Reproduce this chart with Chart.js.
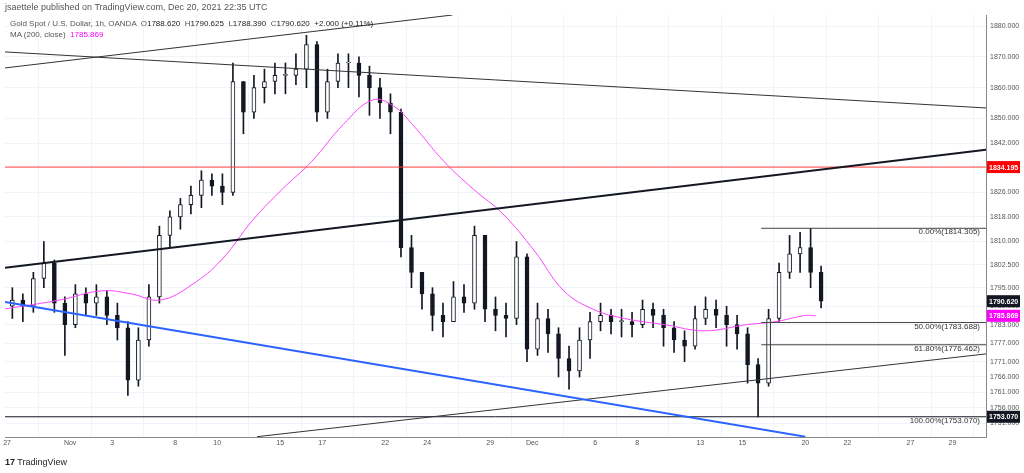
<!DOCTYPE html>
<html><head><meta charset="utf-8">
<script src="https://cdn.jsdelivr.net/npm/chart.js@4/dist/chart.umd.min.js"></script>
<style>
body{margin:0;background:#fff;font-family:"Liberation Sans",Arial,sans-serif;}
#wrap{position:relative;width:1024px;height:473px;}
canvas{position:absolute;left:0;top:0;}
.t{position:absolute;color:#555;white-space:pre;}
</style></head><body>
<div id="wrap"><canvas id="c" width="1024" height="473"></canvas>
<div class="t" style="left:5px;top:2px;font-size:9px;">jsaettele published on TradingView.com, Dec 20, 2021 22:35 UTC</div>
<div class="t" style="left:10px;top:19px;font-size:8px;">Gold Spot / U.S. Dollar, 1h, OANDA  O<span style="color:#222">1788.620</span>  H<span style="color:#222">1790.625</span>  L<span style="color:#222">1788.390</span>  C<span style="color:#222">1790.620</span>  <span style="color:#222">+2.000 (+0.11%)</span></div>
<div class="t" style="left:10px;top:30px;font-size:8px;">MA (200, close)  <span style="color:#ff00ff">1785.869</span></div>
<div class="t" style="left:5px;top:457px;font-size:9px;color:#222;"><b>17</b> TradingView</div>
</div>
<script>
const dayTickIdx=[0,3,5,8,10,13,15,18,20,23,25,28,30,33,35,38,40,43,45];
const dayTickLabels=["27","Nov","3","8","10","15","17","22","24","29","Dec","6","8","13","15","20","22","27","29"];
const priceTicks=[1751,1756,1761,1766,1771,1777,1783,1789,1795,1802.5,1810,1818,1826,1842,1850,1860,1870,1880];
// two candles per trading day
const closes=[1791,1789,1798,1803,1790,1783,1793,1790,1792,1786,1782,1765,1778,1792,1812,1818,1822,1825,1830,1828,1826,1862,1852,1860,1862,1864,1864,1866,1874,1852,1862,1868,1868,1864,1860,1855,1852,1808,1800,1793,1786,1784,1792,1790,1812,1788,1786,1785,1805,1775,1785,1780,1772,1768,1778,1784,1786,1784,1784,1783,1788,1786,1782,1778,1776,1785,1788,1786,1783,1780,1770,1764,1785,1800,1806,1808,1800,1790.62];
const highs=[1795,1793,1800,1810,1804,1792,1796,1795,1796,1794,1790,1784,1782,1796,1815,1820,1824,1828,1833,1832,1832,1868,1862,1864,1866,1868,1868,1871,1877,1875,1866,1871,1871,1870,1867,1863,1858,1853,1812,1800,1795,1790,1797,1796,1815,1810,1792,1790,1810,1806,1790,1788,1782,1776,1782,1787,1790,1788,1788,1787,1791,1790,1788,1784,1781,1789,1792,1791,1789,1786,1782,1772,1788,1803,1812,1813,1814.3,1802];
const lows=[1785,1784,1787,1795,1787,1773,1782,1786,1786,1783,1778,1760,1763,1776,1790,1808,1814,1819,1821,1825,1822,1825,1845,1850,1855,1858,1858,1861,1860,1849,1850,1860,1860,1857,1851,1850,1845,1805,1795,1788,1781,1779,1786,1787,1788,1784,1781,1779,1783,1771,1773,1774,1766,1762,1766,1772,1781,1780,1779,1779,1782,1782,1776,1774,1771,1775,1783,1782,1776,1775,1764,1753,1763,1784,1798,1800,1795,1788.4];
const maX=[-0.2,2.5,4.5,5.9,7.3,8.8,10.2,11.7,13.1,14.5,16,17.4,18.4,19.3,20.8,22.2,23.6,25.1,26.5,27.9,29.4,31.3,33.2,35.2,36.6,38,38.5];
const maY=[1788,1791,1794,1793,1791,1796,1804,1817,1827,1836,1848,1856,1854,1848,1836,1827,1819,1807,1794,1788,1785,1783,1781,1783,1784,1786,1785.87];
const fib=[["0.00%(1814.305)",1814.305],["50.00%(1783.688)",1783.688],["61.80%(1776.462)",1776.462],["100.00%(1753.070)",1753.07]];
const XMIN=-0.1,XMAX=46.6,YMIN=1746.5,YMAX=1883.6;

const cx=closes.map((c,i)=>Math.floor(i/2)+(i%2?0.75:0.25));
const opens=closes.map((c,i)=>i?closes[i-1]:1789);
const wick=cx.map((x,i)=>({x,y:[lows[i],highs[i]]}));
const body=cx.map((x,i)=>({x,y:[Math.min(opens[i],closes[i]),Math.max(opens[i],closes[i])+ (opens[i]===closes[i]?0.3:0)]}));
const bodyCol=closes.map((c,i)=>c>=opens[i]?'#ffffff':'#131722');
const L=(pts,color,w)=>({type:'line',data:pts.map(p=>({x:p[0],y:p[1]})),borderColor:color,borderWidth:w,pointRadius:0,fill:false,tension:0});
const fibStart=35.9;
const datasets=[
 {type:'bar',data:wick,backgroundColor:'#131722',barThickness:1,grouped:false,order:3},
 {type:'bar',data:body,backgroundColor:bodyCol,borderColor:'#131722',borderWidth:1,borderSkipped:false,barThickness:4,grouped:false,order:2},
 {type:'line',data:maX.map((x,i)=>({x,y:maY[i]})),borderColor:'#ff44ff',borderWidth:1,pointRadius:0,tension:0.4,order:1},
 L([[-0.1,1866.4],[21.2,1883.6]],'#333',1),
 L([[-0.1,1871.6],[46.6,1853.4]],'#333',1),
 L([[-0.1,1801.5],[46.6,1839.8]],'#131722',2),
 L([[-0.1,1834.195],[46.6,1834.195]],'#ff3b3b',1),
 L([[-0.1,1790.4],[38.0,1746.6]],'#2962ff',2),
 L([[11.9,1746.6],[46.6,1773.5]],'#333',1),
 L([[-0.1,1753.07],[46.6,1753.07]],'#131722',1),
 L([[fibStart,1814.305],[46.6,1814.305]],'#444',1),
 L([[fibStart,1783.688],[46.6,1783.688]],'#444',1),
 L([[fibStart,1776.462],[46.6,1776.462]],'#444',1)
];
const labels={id:'lbl',afterDraw(ch){
 const c=ch.ctx,y=ch.scales.y,a=ch.chartArea;
 c.save();c.font='8px "Liberation Sans",Arial';c.textAlign='right';c.textBaseline='bottom';c.fillStyle='#333';
 fib.forEach(f=>c.fillText(f[0],a.right-6,y.getPixelForValue(f[1])+8));
 c.textAlign='left';c.textBaseline='middle';c.font='bold 7px "Liberation Sans",Arial';
 [[1834.195,'#ff0000'],[1790.62,'#131722'],[1785.869,'#ff00ff'],[1753.07,'#131722']].forEach(([v,col])=>{
  const py=y.getPixelForValue(v);c.fillStyle=col;c.fillRect(a.right+1,py-6,33,12);c.fillStyle='#fff';c.fillText(v.toFixed(3),a.right+3,py+0.5);});
 c.restore();}};
new Chart(document.getElementById('c'),{
 type:'bar',data:{datasets},plugins:[labels],
 options:{responsive:false,animation:false,layout:{padding:{left:5,top:15,right:0,bottom:18}},
  plugins:{legend:{display:false},tooltip:{enabled:false}},
  scales:{
   x:{type:'linear',min:XMIN,max:XMAX,offset:false,
    afterBuildTicks:s=>{s.ticks=dayTickIdx.map(v=>({value:v}));},
    ticks:{autoSkip:false,maxRotation:0,font:{size:7},color:'#555',padding:2,callback:(v)=>{const i=dayTickIdx.indexOf(v);return i<0?'':dayTickLabels[i];}},
    grid:{color:'#f0f3fa',drawTicks:false},border:{color:'#888'},afterFit:s=>{s.height=18;}},
   y:{type:'linear',position:'right',min:YMIN,max:YMAX,
    afterBuildTicks:s=>{s.ticks=priceTicks.map(v=>({value:v}));},
    ticks:{autoSkip:false,font:{size:7},color:'#555',padding:4,callback:v=>Number(v).toFixed(3)},
    grid:{color:'#f0f3fa',drawTicks:false},border:{color:'#888'},afterFit:s=>{s.width=38;}}
  }}});
</script></body></html>
